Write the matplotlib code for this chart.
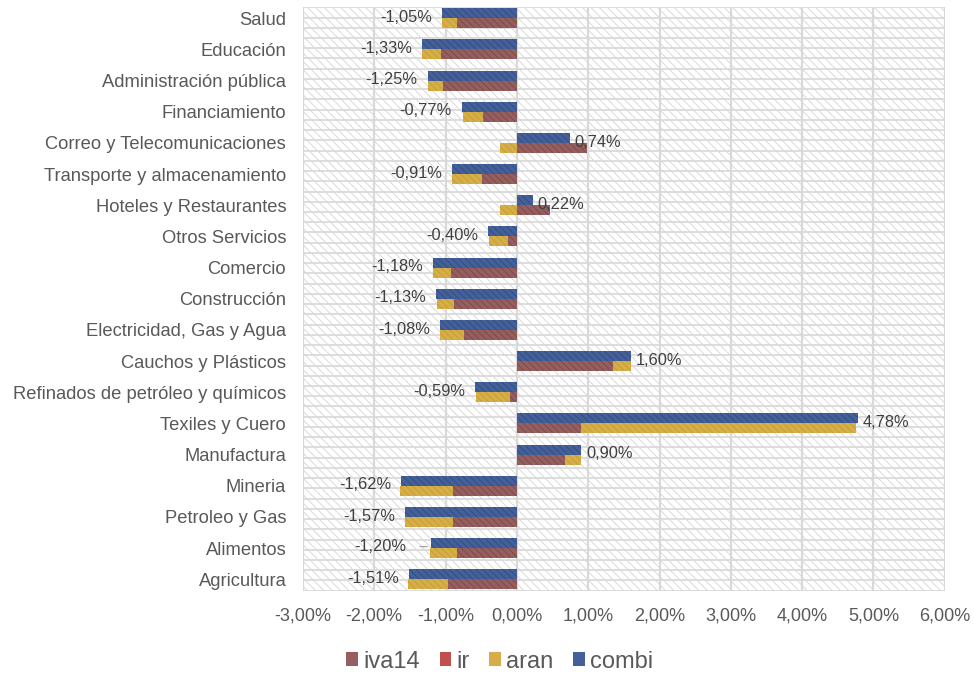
import numpy as np
import matplotlib.pyplot as plt
from matplotlib.patches import Patch, Rectangle

plt.rcParams['font.family'] = ['Liberation Sans', 'DejaVu Sans']
plt.rcParams['hatch.linewidth'] = 0.6

# categories, top to bottom as in the chart
sectors = ['Salud', 'Educación', 'Administración pública', 'Financiamiento',
           'Correo y Telecomunicaciones', 'Transporte y almacenamiento',
           'Hoteles y Restaurantes', 'Otros Servicios', 'Comercio', 'Construcción',
           'Electricidad, Gas y Agua', 'Cauchos y Plásticos',
           'Refinados de petróleo y químicos', 'Texiles y Cuero', 'Manufactura',
           'Mineria', 'Petroleo y Gas', 'Alimentos', 'Agricultura']

# values in %
iva14 = [-0.84, -1.07, -1.03, -0.46, 0.99, -0.49, 0.47, -0.13, -0.92, -0.88,
         -0.74, 1.35, -0.10, 0.90, 0.67, -0.90, -0.90, -0.84, -0.97]
ir = [0.0, 0.0, 0.0, -0.02, 0.0, 0.0, 0.0, 0.0, 0.0, 0.0,
      0.0, 0.0, 0.0, 0.0, 0.0, 0.0, 0.0, 0.0, 0.0]
aran = [-0.21, -0.26, -0.22, -0.28, -0.235, -0.42, -0.235, -0.26, -0.25, -0.24,
        -0.34, 0.25, -0.48, 3.86, 0.23, -0.74, -0.67, -0.38, -0.56]
combi = [-1.05, -1.33, -1.25, -0.77, 0.74, -0.91, 0.22, -0.40, -1.18, -1.13,
         -1.08, 1.60, -0.59, 4.78, 0.90, -1.62, -1.57, -1.20, -1.51]

xticks = [-3, -2, -1, 0, 1, 2, 3, 4, 5, 6]

colors = {'iva14': '#945f5e', 'ir': '#c0504d', 'aran': '#d6ae48', 'combi': '#43609a'}
hatch_cols = {'iva14': '#7a4848', 'ir': '#a03c3a', 'aran': '#c79a30', 'combi': '#324b7d'}

n = len(sectors)
y = np.arange(n)[::-1].astype(float)
h = 0.32

fig = plt.figure(figsize=(9.74, 6.74), dpi=100)
ax = fig.add_axes([0.311, 0.1236, 0.659, 0.8656])
ylo, yhi = -0.366, 18.353
ax.set_xlim(-3, 6)
ax.set_ylim(ylo, yhi)

# patterned background
ax.add_patch(Rectangle((-3, ylo), 9, yhi - ylo, facecolor='white', edgecolor='#d4d4d4',
                       linewidth=0, hatch='\\\\\\\\', zorder=0))
for gy in np.linspace(ylo, yhi, 58):
    ax.axhline(gy, color='#dadada', lw=1.3, zorder=1)
for gx in xticks:
    ax.axvline(gx, color='#d9d9d9', lw=1.6, zorder=1)

# stacked iva14 / ir / aran (positives and negatives stack separately)
pos = np.zeros(n)
neg = np.zeros(n)
for name, vals in [('iva14', iva14), ('ir', ir), ('aran', aran)]:
    v = np.array(vals)
    left = np.where(v >= 0, pos, neg)
    ax.barh(y - h / 2, v, height=h, left=left, color=colors[name],
            edgecolor=hatch_cols[name], linewidth=0, hatch='\\\\\\\\\\', zorder=2)
    pos += np.where(v >= 0, v, 0)
    neg += np.where(v < 0, v, 0)

ax.barh(y + h / 2, combi, height=h, color=colors['combi'], edgecolor=hatch_cols['combi'],
        linewidth=0, hatch='\\\\\\\\\\', zorder=2)

# data labels for combi
lab_kw = dict(textcoords='offset pixels', va='center', fontsize=11.8, color='#404040', zorder=3)
for yi, v, s in zip(y, combi, sectors):
    txt = f'{v:.2f}%'.replace('.', ',')
    if v >= 0:
        ax.annotate(txt, (v, yi + 0.03), xytext=(5, 0), ha='left', **lab_kw)
    elif s == 'Alimentos':
        ax.annotate(txt, (v, yi + 0.05), xytext=(-25, 0), ha='right',
                    arrowprops=dict(arrowstyle='-', color='#a6a6a6', lw=1,
                                    shrinkA=8, shrinkB=3), **lab_kw)
    else:
        ax.annotate(txt, (v, yi + 0.03), xytext=(-10, 0), ha='right', **lab_kw)

ax.set_xticks(xticks)
ax.set_xticklabels([f'{t:.2f}%'.replace('.', ',') for t in xticks], fontsize=13, color='#595959')
ax.set_yticks(y)
ax.set_yticklabels(sectors, fontsize=13.2, color='#595959')
ax.tick_params(axis='both', length=0)
ax.tick_params(axis='x', pad=12)
ax.tick_params(axis='y', pad=12)
for sp in ax.spines.values():
    sp.set_visible(False)

handles = [Patch(facecolor=colors[k], edgecolor='none') for k in ['iva14', 'ir', 'aran', 'combi']]
fig.legend(handles, ['iva14', 'ir', 'aran', 'combi'], loc='center', bbox_to_anchor=(0.513, 0.0185),
           ncol=4, frameon=False, fontsize=17, handlelength=0.5, handleheight=0.5,
           handletextpad=0.2, columnspacing=0.85, labelcolor='#595959')

fig.savefig('out.png', dpi=100)
